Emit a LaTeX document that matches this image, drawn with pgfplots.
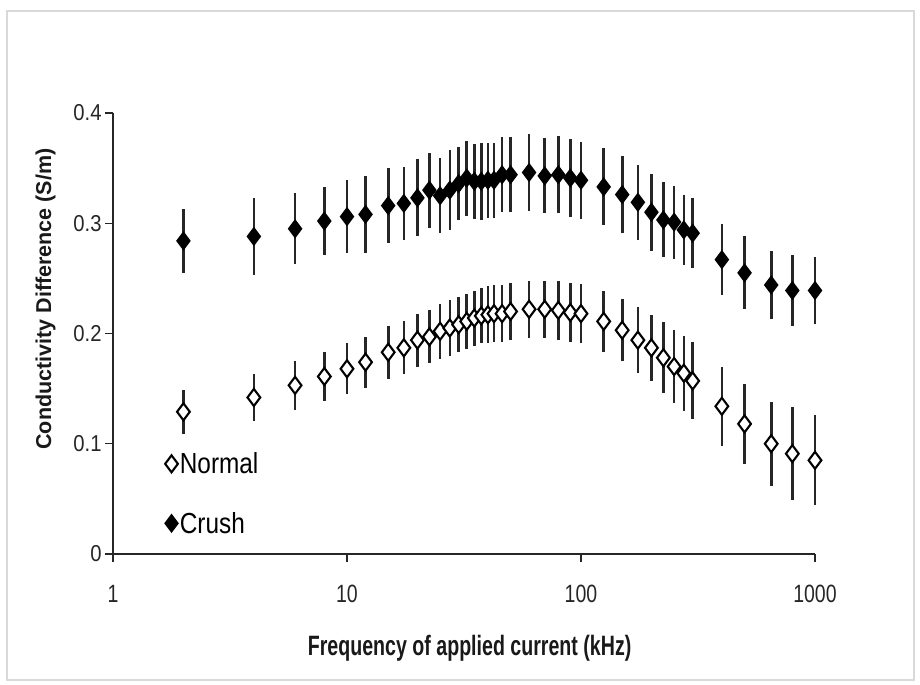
\documentclass[border=0pt]{standalone}
\usepackage{fontspec}
\usepackage{graphicx}
\usepackage{pgfplots}
\usepackage{pgfplotstable}
\pgfplotsset{compat=1.18}
\setmainfont{Liberation Sans}
\newfontfamily\tickfont[FakeStretch=0.78]{Liberation Sans}
\newfontfamily\ytickfont[FakeStretch=0.88]{Liberation Sans}
\newfontfamily\legfont[FakeStretch=0.84]{Liberation Sans}
\newfontfamily\xlabfont[FakeStretch=0.70]{Liberation Sans}
\newfontfamily\ylabfont{Liberation Sans}

\pgfplotstableread{
x y e
2 0.129 0.020
4 0.142 0.021
6 0.153 0.022
8 0.161 0.022
10 0.168 0.023
12 0.174 0.023
15 0.183 0.024
17.5 0.187 0.024
20 0.194 0.024
22.5 0.197 0.024
25 0.202 0.025
27.5 0.205 0.025
30 0.208 0.025
32.5 0.211 0.025
35 0.214 0.025
37.5 0.216 0.025
40 0.217 0.026
42.5 0.218 0.026
46 0.218 0.026
50 0.220 0.026
60 0.222 0.026
70 0.222 0.026
80 0.221 0.027
90 0.219 0.027
100 0.218 0.027
125 0.211 0.028
150 0.203 0.028
175 0.194 0.030
200 0.187 0.030
225 0.178 0.032
250 0.170 0.033
275 0.164 0.034
300 0.157 0.035
400 0.134 0.036
500 0.118 0.036
650 0.100 0.038
800 0.091 0.042
1000 0.085 0.041
}\normaldata

\pgfplotstableread{
x y e
2 0.284 0.029
4 0.288 0.035
6 0.295 0.032
8 0.302 0.031
10 0.306 0.033
12 0.308 0.035
15 0.316 0.034
17.5 0.318 0.033
20 0.323 0.035
22.5 0.330 0.034
25 0.325 0.034
27.5 0.330 0.036
30 0.336 0.033
32.5 0.341 0.034
35 0.338 0.034
37.5 0.338 0.035
40 0.339 0.034
42.5 0.339 0.034
46 0.344 0.034
50 0.344 0.034
60 0.346 0.035
70 0.343 0.034
80 0.344 0.035
90 0.341 0.035
100 0.339 0.035
125 0.333 0.035
150 0.326 0.035
175 0.319 0.034
200 0.310 0.035
225 0.303 0.034
250 0.301 0.033
275 0.294 0.032
300 0.291 0.032
400 0.267 0.032
500 0.255 0.033
650 0.244 0.031
800 0.239 0.032
1000 0.239 0.030
}\crushdata

\begin{document}
\begin{tikzpicture}
\useasboundingbox (-113bp,-131bp) rectangle (807bp,554bp);
\draw[line width=1.5bp, black!15] (-106bp,-126bp) rectangle (801bp,543bp);
\begin{axis}[
  at={(0,0)}, anchor=south west,
  scale only axis,
  width=702bp, height=441bp,
  xmode=log, log basis x=10,
  xmin=1, xmax=1000, ymin=0, ymax=0.4,
  xtick={1,10,100,1000}, xticklabels={1,10,100,1000},
  ytick={0,0.1,0.2,0.3,0.4}, yticklabels={0,0.1,0.2,0.3,0.4},
  minor xtick={}, xminorticks=false,
  axis x line*=bottom, axis y line*=left,
  axis line style={line width=1.6bp, black!85, -},
  tick style={line width=1.4bp, black!85},
  tick align=outside, major tick length=8bp,
  clip=false,
  /pgf/number format/assume math mode=true,
  xticklabel style={font=\tickfont\fontsize{25bp}{28bp}\selectfont, yshift=-20bp, text=black!85},
  yticklabel style={font=\ytickfont\fontsize{23bp}{26bp}\selectfont, text=black!85},
  xlabel={Frequency of applied current (kHz)},
  xlabel style={font=\xlabfont\bfseries\fontsize{28bp}{32bp}\selectfont, at={(axis description cs:0.508,-0.213)}, anchor=center, text=black!90},
  ylabel={Conductivity Difference (S/m)},
  ylabel style={font=\ylabfont\bfseries\fontsize{21.5bp}{25bp}\selectfont, at={(axis description cs:-0.096,0.578)}, anchor=center, text=black!90},
  legend style={draw=none, fill=none, at={(axis description cs:0.074,0.235)}, anchor=north west,
    font=\legfont\fontsize{29bp}{32bp}\selectfont, row sep=33bp, inner sep=0pt,
    /tikz/every even column/.append style={column sep=9bp}},
  legend cell align=left,
]
\addplot[only marks, mark=diamond*, mark size=8.5bp, mark options={fill=white, draw=black, line width=2.1bp},
  error bars/.cd, y dir=both, y explicit, error mark=none,
  error bar style={line width=2.6bp, black!85}]
  table[x=x, y=y, y error=e] {\normaldata};
\addlegendentry{Normal}
\addplot[only marks, mark=diamond*, mark size=8.5bp, mark options={fill=black, draw=black, line width=1.5bp},
  error bars/.cd, y dir=both, y explicit, error mark=none,
  error bar style={line width=2.6bp, black!85}]
  table[x=x, y=y, y error=e] {\crushdata};
\addlegendentry{Crush}
\end{axis}
\end{tikzpicture}
\end{document}
